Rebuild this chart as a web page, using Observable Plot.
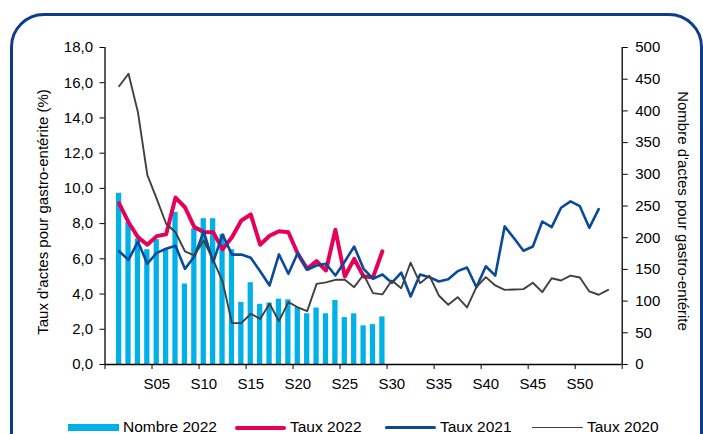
<!DOCTYPE html>
<html><head><meta charset="utf-8">
<script src="https://cdn.jsdelivr.net/npm/d3@7"></script>
<script src="https://cdn.jsdelivr.net/npm/@observablehq/plot@0.6"></script>
<style>
body{margin:0;background:#fff;}
#wrap{position:relative;width:703px;height:434px;overflow:hidden;background:#fff;font-family:"Liberation Sans",Arial,sans-serif;color:#000;}
#frame{position:absolute;left:10px;top:13px;width:693px;height:470px;border:3px solid #0b3d8c;border-radius:34px;box-sizing:border-box;}
#chart{position:absolute;left:0;top:0;}
.leg{position:absolute;top:418px;height:18px;font-size:15.5px;line-height:18px;white-space:nowrap;}
.sw{position:absolute;}
</style></head>
<body>
<div id="wrap">
  <div id="frame"></div>
  <div id="chart"></div>
  <div id="legend"></div>
</div>
<script>
const semaines = ["S01","S02","S03","S04","S05","S06","S07","S08","S09","S10","S11","S12","S13","S14","S15","S16","S17","S18","S19","S20","S21","S22","S23","S24","S25","S26","S27","S28","S29","S30","S31","S32","S33","S34","S35","S36","S37","S38","S39","S40","S41","S42","S43","S44","S45","S46","S47","S48","S49","S50","S51","S52","S53"];
const nombre2022 = [270,224,198,181,197,182,240,127,214,230,230,205,181,98,129,95,97,103,102,90,80,89,80,101,74,80,61,63,75];
const taux2022 = [9.15,8.08,7.23,6.80,7.29,7.40,9.48,8.93,7.80,7.53,7.51,6.55,7.23,8.18,8.52,6.80,7.31,7.57,7.51,6.29,5.43,5.87,5.34,7.65,5.00,6.00,5.00,4.95,6.43];
const taux2021 = [6.43,5.94,6.98,5.72,6.34,6.57,6.74,5.43,6.13,7.55,5.81,7.38,6.24,6.25,6.06,5.30,4.49,6.25,5.15,6.34,5.38,5.62,5.72,5.05,5.85,6.70,5.43,4.87,5.11,4.64,5.22,3.86,5.11,4.96,4.71,4.84,5.30,5.51,4.39,5.58,5.05,7.84,7.17,6.46,6.70,8.12,7.80,8.90,9.26,8.99,7.76,8.82];
const taux2020 = [15.80,16.51,14.33,10.77,9.41,7.99,7.51,6.43,6.19,7.04,5.94,4.72,2.35,2.35,2.88,2.59,3.45,2.46,3.54,3.25,3.03,4.58,4.66,4.81,4.81,4.39,5.11,4.05,3.98,4.77,4.33,5.79,4.62,5.04,3.92,3.39,3.82,3.24,4.39,4.96,4.49,4.24,4.26,4.28,4.64,4.11,4.90,4.77,5.05,4.94,4.15,3.96,4.24];
const yTicksLeft = [0,2,4,6,8,10,12,14,16,18];
const yTicksRight = [0,50,100,150,200,250,300,350,400,450,500];
const xTickLabels = ["S05","S10","S15","S20","S25","S30","S35","S40","S45","S50"];

const K = 18/500; // right axis (count) to left axis (%) units
const weekOf = s => semaines.indexOf(s) + 1;
const rows = (arr, key) => arr.map((v, i) => ({week: i + 1, label: semaines[i], [key]: v}));
const rN = rows(nombre2022, "nombre");
const r22 = rows(taux2022, "taux");
const r21 = rows(taux2021, "taux");
const r20 = rows(taux2020, "taux");
const xTicks = xTickLabels.map(weekOf);
const nCat = semaines.length + 1; // category slots from S00 to S54 in the original axis
const xDomain = [-0.5, nCat + 0.5];
const boundaries = [xDomain[0], ...xTicks.map(w => w - 0.5), xDomain[1]];

const plot = Plot.plot({
  width: 703, height: 400,
  marginLeft: 104.5, marginRight: 81.3, marginTop: 47, marginBottom: 36,
  x: {type: "linear", domain: xDomain},
  y: {domain: [0, 18]},
  style: {fontFamily: "'Liberation Sans', Arial, sans-serif", fontSize: "15px", color: "#000", background: "transparent", overflow: "visible"},
  marks: [
    Plot.rectY(rN, {x1: d => d.week - 0.28, x2: d => d.week + 0.28, y1: 0, y2: d => d.nombre * K, fill: "#00b0e8"}),
    Plot.line(r22, {x: "week", y: "taux", stroke: "#e6005a", strokeWidth: 4, strokeLinejoin: "round"}),
    Plot.line(r21, {x: "week", y: "taux", stroke: "#0b4a9b", strokeWidth: 2.6, strokeLinejoin: "round"}),
    Plot.line(r20, {x: "week", y: "taux", stroke: "#404040", strokeWidth: 1.9, strokeLinejoin: "round"}),
    Plot.ruleY([0], {stroke: "#000", strokeWidth: 1.3}),
    Plot.ruleX(xDomain, {stroke: "#000", strokeWidth: 1.3}),
    Plot.axisY({anchor: "left", ticks: yTicksLeft, tickFormat: d => d.toFixed(1).replace(".", ","), tickSize: 5, tickPadding: 7, label: null}),
    Plot.axisY({anchor: "right", ticks: yTicksRight.map(v => v * K), tickFormat: v => String(Math.round(v / K)), tickSize: 5, tickPadding: 8, label: null}),
    Plot.axisX({ticks: xTicks, tickFormat: w => semaines[w - 1], tickSize: 0, tickPadding: 14, label: null}),
    Plot.axisX({ticks: boundaries, tickFormat: () => "", tickSize: 5, label: null}),
    Plot.text(["Taux d'actes pour gastro-entérite (%)"], {frameAnchor: "left", dx: -62, dy: 6, rotate: -90, textAnchor: "middle", fontSize: 15}),
    Plot.text(["Nombre d'actes pour gastro-entérite"], {frameAnchor: "right", dx: 61, dy: 5, rotate: 90, textAnchor: "middle", fontSize: 15})
  ]
});
document.getElementById("chart").appendChild(plot);

const legendItems = [
  {name: "Nombre 2022", color: "#00b0e8", kind: "bar", left: 68},
  {name: "Taux 2022", color: "#e6005a", kind: "line", w: 4, left: 235},
  {name: "Taux 2021", color: "#0b4a9b", kind: "line", w: 2.6, left: 385},
  {name: "Taux 2020", color: "#404040", kind: "line", w: 1.9, left: 532}
];
const lg = document.getElementById("legend");
legendItems.forEach(it => {
  const d = document.createElement("div");
  d.className = "leg";
  d.style.left = it.left + "px";
  const s = document.createElement("div");
  s.className = "sw";
  s.style.left = "0px";
  s.style.width = "51px";
  s.style.background = it.color;
  if (it.kind === "bar") { s.style.top = "6px"; s.style.height = "7px"; }
  else { s.style.top = (9.5 - it.w / 2) + "px"; s.style.height = it.w + "px"; s.style.borderRadius = "2px"; }
  d.appendChild(s);
  const t = document.createElement("span");
  t.textContent = it.name;
  t.style.marginLeft = "55px";
  d.appendChild(t);
  lg.appendChild(d);
});
</script>
</body></html>
